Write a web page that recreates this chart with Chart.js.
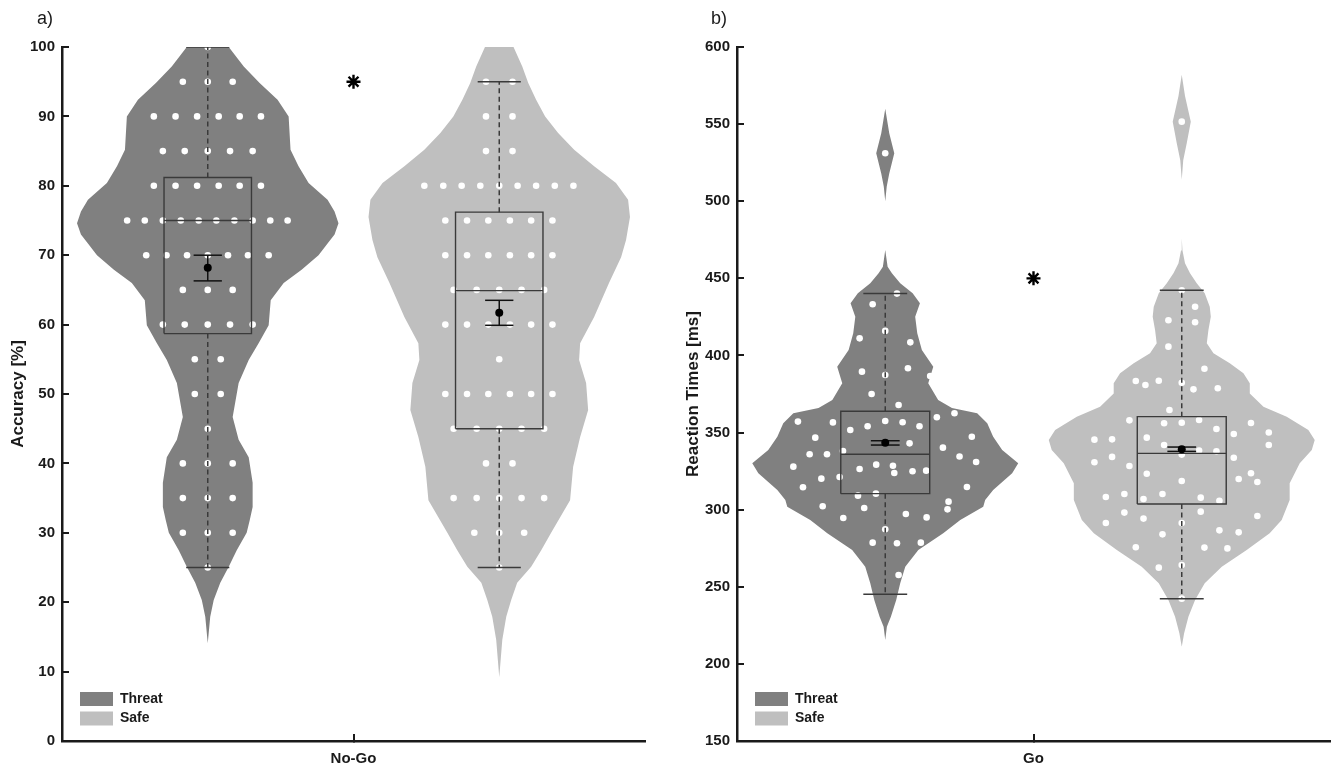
<!DOCTYPE html>
<html>
<head>
<meta charset="utf-8">
<script src="https://cdn.jsdelivr.net/npm/chart.js@4"></script>
<style>
  html, body { margin: 0; padding: 0; background: #fff; }
  #wrap { position: relative; width: 1332px; height: 766px; }
  canvas { position: absolute; top: 0; }
</style>
</head>
<body>
<div id="wrap">
  <canvas id="accChart" width="666" height="766" style="left:0"></canvas>
  <canvas id="rtChart" width="666" height="766" style="left:666px"></canvas>
</div>
<script>
// groups drawn in both panels
const groupNames = ['Threat', 'Safe'];
const groupCenters = [1, 3];

// ---- panel a) No-Go accuracy ----
const accCategory = 'No-Go';
// violin outline: value levels and half widths (x units)
const accThreatLevels = [14.1, 17.9, 20.3, 22.8, 25.1, 27.5, 30.0, 31.8, 33.7, 37.2, 40.9, 43.4, 46.7, 51.6, 54.9, 57.3, 59.9, 63.5, 66.0, 67.9, 70.0, 71.7, 73.0, 74.6, 76.3, 78.0, 80.4, 82.8, 85.2, 90.0, 92.4, 94.8, 97.2, 100];
const accThreatWidths = [0, 0.017, 0.041, 0.086, 0.144, 0.199, 0.267, 0.288, 0.308, 0.308, 0.281, 0.212, 0.171, 0.212, 0.281, 0.349, 0.418, 0.432, 0.521, 0.644, 0.760, 0.822, 0.870, 0.897, 0.870, 0.822, 0.692, 0.623, 0.568, 0.555, 0.479, 0.356, 0.247, 0.144];
const accSafeLevels = [9.2, 14.6, 17.9, 20.3, 22.8, 25.1, 27.5, 30.0, 34.7, 39.5, 43.8, 47.7, 51.6, 54.9, 57.3, 61.1, 66.0, 69.7, 72.2, 75.5, 78.0, 80.4, 82.8, 85.2, 87.6, 90.0, 92.4, 94.8, 97.2, 100];
const accSafeWidths = [0, 0.021, 0.048, 0.082, 0.123, 0.219, 0.288, 0.356, 0.486, 0.507, 0.555, 0.610, 0.596, 0.548, 0.555, 0.651, 0.753, 0.836, 0.870, 0.897, 0.884, 0.801, 0.651, 0.514, 0.404, 0.315, 0.253, 0.199, 0.158, 0.098];
// single subjects [x offset from group centre, accuracy]
const accThreatDots = [
  [0, 100],
  [-0.171, 95], [0, 95], [0.171, 95],
  [-0.370, 90], [-0.221, 90], [-0.073, 90], [0.075, 90], [0.219, 90], [0.365, 90],
  [-0.308, 85], [-0.158, 85], [0, 85], [0.153, 85], [0.308, 85],
  [-0.370, 80], [-0.221, 80], [-0.073, 80], [0.075, 80], [0.219, 80], [0.365, 80],
  [-0.553, 75], [-0.432, 75], [-0.308, 75], [-0.185, 75], [-0.062, 75], [0.059, 75], [0.183, 75], [0.308, 75], [0.429, 75], [0.548, 75],
  [-0.422, 70], [-0.283, 70], [-0.142, 70], [0, 70], [0.139, 70], [0.276, 70], [0.418, 70],
  [-0.171, 65], [0, 65], [0.171, 65],
  [-0.308, 60], [-0.158, 60], [0, 60], [0.153, 60], [0.308, 60],
  [-0.089, 55], [0.089, 55],
  [-0.089, 50], [0.089, 50],
  [0, 45],
  [-0.171, 40], [0, 40], [0.171, 40],
  [-0.171, 35], [0, 35], [0.171, 35],
  [-0.171, 30], [0, 30], [0.171, 30],
  [0, 25]
];
const accSafeDots = [
  [-0.091, 95], [0.091, 95],
  [-0.091, 90], [0.091, 90],
  [-0.091, 85], [0.091, 85],
  [-0.514, 80], [-0.384, 80], [-0.258, 80], [-0.130, 80], [0, 80], [0.126, 80], [0.253, 80], [0.381, 80], [0.509, 80],
  [-0.370, 75], [-0.221, 75], [-0.075, 75], [0.073, 75], [0.219, 75], [0.365, 75],
  [-0.370, 70], [-0.221, 70], [-0.075, 70], [0.073, 70], [0.219, 70], [0.365, 70],
  [-0.313, 65], [-0.155, 65], [0, 65], [0.153, 65], [0.308, 65],
  [-0.370, 60], [-0.221, 60], [-0.075, 60], [0.073, 60], [0.219, 60], [0.365, 60],
  [0, 55],
  [-0.370, 50], [-0.221, 50], [-0.075, 50], [0.073, 50], [0.219, 50], [0.365, 50],
  [-0.313, 45], [-0.155, 45], [0, 45], [0.153, 45], [0.308, 45],
  [-0.091, 40], [0.091, 40],
  [-0.313, 35], [-0.155, 35], [0, 35], [0.153, 35], [0.308, 35],
  [-0.171, 30], [0, 30], [0.171, 30],
  [0, 25]
];
// box: [whisker low, q1, median, q3, whisker high]; mean: [mean, lower, upper]
const accThreatBox = [25, 58.7, 75.0, 81.2, 100];
const accSafeBox = [25, 45.0, 64.9, 76.2, 95];
const accThreatMean = [68.2, 66.3, 70.0];
const accSafeMean = [61.7, 59.9, 63.5];
const accStar = [2, 95];

// ---- panel b) Go reaction times ----
const rtCategory = 'Go';
const rtThreatLevels = [215.5, 224.1, 230.6, 241.4, 252.3, 263.0, 273.9, 284.7, 293.3, 301.9, 306.3, 312.8, 323.6, 330.1, 338.7, 347.3, 356.0, 362.5, 366.0, 371.1, 381.9, 392.7, 403.5, 414.4, 425.1, 433.8, 440.3, 446.8, 453.3, 457.5, 468.4, 500.0, 509.5, 518.0, 531.1, 544.0, 560.0];
const rtThreatWidths = [0, 0.011, 0.038, 0.074, 0.101, 0.135, 0.223, 0.391, 0.506, 0.661, 0.674, 0.728, 0.856, 0.897, 0.789, 0.728, 0.688, 0.620, 0.450, 0.357, 0.290, 0.324, 0.247, 0.216, 0.202, 0.234, 0.185, 0.101, 0.045, 0.016, 0, 0, 0.010, 0.027, 0.061, 0.027, 0];
const rtSafeLevels = [211.1, 219.8, 230.6, 241.4, 252.3, 263.0, 273.9, 284.7, 293.3, 306.3, 317.1, 330.1, 338.7, 345.2, 351.7, 360.3, 366.8, 375.4, 381.9, 388.4, 394.9, 401.4, 407.9, 416.5, 425.1, 431.6, 440.3, 446.8, 453.3, 459.8, 468.0, 476.0, 514.0, 526.6, 537.7, 551.6, 568.3, 582.0];
const rtSafeWidths = [0, 0.016, 0.045, 0.090, 0.155, 0.270, 0.438, 0.593, 0.674, 0.728, 0.728, 0.796, 0.877, 0.897, 0.854, 0.708, 0.551, 0.459, 0.459, 0.416, 0.324, 0.214, 0.169, 0.180, 0.196, 0.189, 0.155, 0.101, 0.056, 0.022, 0.005, 0, 0, 0.010, 0.034, 0.061, 0.022, 0];
const rtThreatDots = [
  [0.079, 440.1], [-0.085, 433.2], [0, 415.9], [-0.173, 411.1], [0.169, 408.5], [0.153, 391.7], [-0.157, 389.5], [0, 387.3],
  [0.303, 386.7], [-0.092, 375.0], [0.090, 367.9], [0.467, 362.5], [-0.589, 357.1], [-0.353, 356.6], [0, 357.5], [-0.119, 354.1],
  [0.117, 356.7], [0.231, 354.1], [-0.236, 351.7], [0.348, 359.9], [-0.472, 346.7], [0.584, 347.3], [0.164, 343.0], [0.389, 340.2],
  [-0.510, 335.9], [-0.393, 335.9], [-0.285, 338.0], [0.501, 334.5], [0.613, 330.9], [-0.620, 327.9], [-0.061, 329.2], [0.052, 328.5],
  [-0.173, 326.4], [0.061, 323.8], [0.184, 324.9], [0.276, 325.3], [-0.308, 321.2], [-0.431, 320.1], [-0.555, 314.5], [0.551, 314.7],
  [-0.184, 309.1], [-0.063, 310.4], [0.427, 305.2], [0.420, 300.2], [-0.422, 302.2], [-0.142, 301.1], [-0.283, 294.6], [0.139, 297.2],
  [0.279, 295.0], [0, 287.3], [-0.085, 278.6], [0.079, 278.2], [0.240, 278.6], [0.090, 257.6], [0, 531.1]
];
const rtSafeDots = [
  [0, 442.2], [0.090, 431.6], [-0.090, 422.8], [0.090, 421.5], [-0.090, 405.7], [0.153, 391.4], [-0.310, 383.4], [-0.245, 380.8],
  [-0.155, 383.6], [0, 382.3], [0.079, 378.0], [0.243, 378.7], [-0.083, 364.6], [-0.353, 357.9], [-0.119, 356.0], [0, 356.4],
  [0.117, 358.1], [0.234, 352.3], [0.467, 356.2], [-0.236, 346.7], [-0.589, 345.4], [-0.470, 345.6], [0.351, 349.1], [0.587, 350.0],
  [0.587, 341.9], [-0.119, 341.9], [0.117, 338.3], [0.234, 337.9], [0, 335.7], [-0.589, 330.7], [-0.470, 334.2], [-0.353, 328.3],
  [0.351, 333.7], [-0.236, 323.3], [0, 318.6], [0.384, 319.9], [0.467, 323.6], [0.510, 317.9], [-0.512, 308.2], [-0.387, 310.2],
  [-0.258, 306.9], [-0.130, 310.2], [0.128, 307.8], [0.254, 305.8], [-0.387, 298.1], [-0.512, 291.4], [-0.258, 294.2], [0.128, 298.7],
  [0, 291.4], [0.510, 295.9], [-0.130, 284.0], [0.254, 286.6], [0.384, 285.3], [-0.310, 275.6], [0.153, 275.4], [0.308, 274.9],
  [-0.155, 262.4], [0, 264.1], [0, 242.3], [0, 551.6]
];
const rtThreatBox = [245.1, 310.4, 335.9, 363.8, 440.1];
const rtSafeBox = [242.3, 303.7, 336.5, 360.3, 442.2];
const rtThreatMean = [343.4, 341.9, 344.7];
const rtSafeMean = [339.1, 337.8, 340.6];
const rtStar = [2, 450];

// styles
const groupColors = ['#808080', '#bfbfbf'];
const inkColor = '#1a1a1a';
const boxColor = '#3a3a3a';
Chart.defaults.font.family = '"Liberation Sans", Arial, Helvetica, sans-serif';
Chart.defaults.color = inkColor;

function segment(points, color, width, dash, order) {
  return {
    data: points.map(([x, y]) => ({x, y})),
    showLine: true, fill: false, pointRadius: 0,
    borderColor: color, borderWidth: width, borderDash: dash, order
  };
}

function panelDatasets(levels, widths, dots, boxes, means, star) {
  const sets = [];
  groupNames.forEach((name, g) => {
    const c = groupCenters[g];
    // left edge fills to the right edge that follows it
    sets.push({
      label: name, inLegend: true, indexAxis: 'y', showLine: true, fill: '+1',
      data: levels[g].map((y, i) => ({x: c - widths[g][i], y})),
      backgroundColor: groupColors[g], borderColor: 'rgba(0,0,0,0)', borderWidth: 0, pointRadius: 0, order: 5
    });
    sets.push({
      label: name + ' edge', indexAxis: 'y', showLine: true, fill: false,
      data: levels[g].map((y, i) => ({x: c + widths[g][i], y})),
      backgroundColor: groupColors[g], borderColor: 'rgba(0,0,0,0)', borderWidth: 0, pointRadius: 0, order: 5
    });
  });
  groupNames.forEach((name, g) => {
    const c = groupCenters[g];
    sets.push({
      label: name + ' subjects', data: dots[g].map(([dx, y]) => ({x: c + dx, y})),
      pointRadius: 3.3, backgroundColor: '#ffffff', borderWidth: 0, order: 4
    });
    const [lo, q1, med, q3, hi] = boxes[g];
    const bw = 0.3, cw = 0.148;
    sets.push(segment([[c - bw, q1], [c + bw, q1], [c + bw, q3], [c - bw, q3], [c - bw, q1]], boxColor, 1.4, [], 3));
    sets.push(segment([[c - bw, med], [c + bw, med]], boxColor, 1.4, [], 3));
    sets.push(segment([[c, q3], [c, hi]], boxColor, 1.5, [5, 3.5], 3));
    sets.push(segment([[c, q1], [c, lo]], boxColor, 1.5, [5, 3.5], 3));
    sets.push(segment([[c - cw, hi], [c + cw, hi]], boxColor, 1.5, [], 3));
    sets.push(segment([[c - cw, lo], [c + cw, lo]], boxColor, 1.5, [], 3));
    const [m, mLo, mHi] = means[g];
    const ew = 0.097;
    sets.push(segment([[c, mLo], [c, mHi]], '#111', 1.5, [], 2));
    sets.push(segment([[c - ew, mLo], [c + ew, mLo]], '#111', 1.5, [], 2));
    sets.push(segment([[c - ew, mHi], [c + ew, mHi]], '#111', 1.5, [], 2));
    sets.push({data: [{x: c, y: m}], pointRadius: 4, backgroundColor: '#000', borderWidth: 0, order: 1});
  });
  sets.push({data: [{x: star[0], y: star[1]}], pointStyle: 'star', pointRadius: 7, borderColor: '#000', borderWidth: 2.4, order: 0});
  return sets;
}

// "a)" / "b)" in the corner
const panelLabel = {
  id: 'panelLabel',
  afterDraw(chart, args, opts) {
    const ctx = chart.ctx;
    ctx.save();
    ctx.font = '18px "Liberation Sans", Arial, sans-serif';
    ctx.fillStyle = inkColor;
    ctx.textBaseline = 'middle';
    ctx.fillText(opts.text, opts.x, opts.y);
    ctx.restore();
  }
};

// put the legend in the lower left corner of the plot
const legendCorner = {
  id: 'legendCorner',
  afterLayout(chart, args, opts) {
    const lg = chart.legend, ca = chart.chartArea;
    if (!lg) return;
    const w = lg.width, h = lg.height;
    lg.left = ca.left + opts.dx; lg.right = lg.left + w;
    lg.bottom = ca.bottom - opts.dy; lg.top = lg.bottom - h;
  }
};

function panelOptions(yMin, yMax, step, yTitle, category, yWidth, titlePad, padRight, label, labelX) {
  const tickFont = {size: 15, weight: 'bold'};
  return {
    responsive: false,
    animation: false,
    events: [],
    layout: {autoPadding: false, padding: {top: 47, right: padRight, bottom: 0, left: 0}},
    plugins: {
      tooltip: {enabled: false},
      legend: {
        position: 'chartArea', align: 'end',
        labels: {
          boxWidth: 33, boxHeight: 14, padding: 5.5, color: inkColor,
          font: {size: 14, weight: 'bold'},
          filter: (item, data) => data.datasets[item.datasetIndex].inLegend === true
        }
      },
      legendCorner: {dx: 12.5, dy: 10},
      panelLabel: {text: label, x: labelX, y: 19}
    },
    scales: {
      x: {
        type: 'linear', min: 0, max: 4,
        afterBuildTicks: s => { s.ticks = [{value: 2}]; },
        afterFit: s => { s.height = 25; },
        ticks: {callback: () => category, font: tickFont, color: inkColor, padding: 16, maxRotation: 0},
        grid: {drawOnChartArea: false, tickLength: -7, color: inkColor, lineWidth: 2},
        border: {display: true, color: inkColor, width: 2.5}
      },
      y: {
        type: 'linear', min: yMin, max: yMax,
        afterFit: s => { s.width = yWidth; },
        ticks: {stepSize: step, font: tickFont, color: inkColor, padding: 14},
        grid: {drawOnChartArea: false, tickLength: -7, color: inkColor, lineWidth: 2},
        border: {display: true, color: inkColor, width: 2.5},
        title: {display: true, text: yTitle, color: inkColor, font: {size: 17, weight: 'bold'}, padding: {top: titlePad, bottom: 0}}
      }
    }
  };
}

new Chart(document.getElementById('accChart'), {
  type: 'scatter',
  data: {
    datasets: panelDatasets(
      [accThreatLevels, accSafeLevels], [accThreatWidths, accSafeWidths],
      [accThreatDots, accSafeDots], [accThreatBox, accSafeBox], [accThreatMean, accSafeMean], accStar)
  },
  options: panelOptions(0, 100, 10, 'Accuracy [%]', accCategory, 62, 8.3, 21, 'a)', 37),
  plugins: [panelLabel, legendCorner]
});

new Chart(document.getElementById('rtChart'), {
  type: 'scatter',
  data: {
    datasets: panelDatasets(
      [rtThreatLevels, rtSafeLevels], [rtThreatWidths, rtSafeWidths],
      [rtThreatDots, rtSafeDots], [rtThreatBox, rtSafeBox], [rtThreatMean, rtSafeMean], rtStar)
  },
  options: panelOptions(150, 600, 50, 'Reaction Times [ms]', rtCategory, 71, 16.8, 2, 'b)', 45),
  plugins: [panelLabel, legendCorner]
});
</script>
</body>
</html>
